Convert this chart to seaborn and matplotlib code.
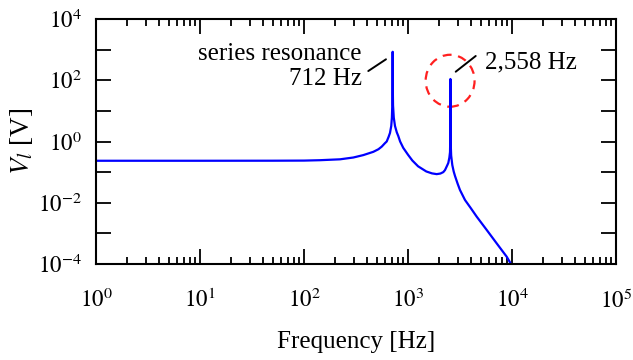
import numpy as np
import pandas as pd
import matplotlib
matplotlib.use("Agg")
import matplotlib.pyplot as plt
from matplotlib.ticker import LogLocator, FuncFormatter, NullLocator, NullFormatter
from matplotlib.patches import Ellipse
import seaborn as sns

# Load-voltage magnitude versus frequency
freq_hz = [1, 10, 50, 100, 142, 222, 298, 372, 464, 520, 559, 600, 624, 650,
           671, 690, 700, 706, 710, 712, 714, 718, 730, 750, 780, 807, 840,
           900, 1000, 1100, 1250, 1500, 1700, 1888, 2050, 2184, 2270, 2390,
           2441, 2500, 2535, 2548, 2554, 2558, 2562, 2570, 2600, 2667, 2750,
           2831, 3000, 3162, 3532, 4000, 4581, 5715, 7129, 8892, 9776, 10500]
v_load = [0.235, 0.235, 0.236, 0.238, 0.245, 0.262, 0.30, 0.36, 0.46, 0.56,
          0.68, 0.88, 1.0, 1.4, 1.9, 3.2, 6.0, 15, 60, 850, 60, 15, 6.0, 3.2,
          2.0, 1.5, 1.0, 0.62, 0.37, 0.24, 0.155, 0.105, 0.091, 0.086, 0.090,
          0.100, 0.117, 0.17, 0.20, 0.30, 0.45, 1.2, 6.0, 110, 6.0, 1.0, 0.35,
          0.17, 0.105, 0.075, 0.042, 0.026, 0.0123, 0.0068, 0.0035, 0.00129,
          0.00047, 0.000173, 0.0001, 0.00007]

x_ticks = [1e0, 1e1, 1e2, 1e3, 1e4, 1e5]
y_ticks = [1e-4, 1e-2, 1e0, 1e2, 1e4]

df = pd.DataFrame({"Frequency [Hz]": freq_hz, "V": v_load})

sns.set_style("ticks")
plt.rcParams["font.family"] = ["Liberation Serif", "DejaVu Serif"]
plt.rcParams["mathtext.fontset"] = "stix"
plt.rcParams["text.color"] = "black"
plt.rcParams["axes.labelcolor"] = "black"

fig, ax = plt.subplots(figsize=(6.33, 3.6), dpi=100)
fig.subplots_adjust(left=96 / 633, right=616 / 633, top=1 - 19 / 360, bottom=1 - 264 / 360)

sns.lineplot(data=df, x="Frequency [Hz]", y="V", ax=ax, color="#0000ff", lw=1.6,
             sort=False, estimator=None)

ax.set_xscale("log")
ax.set_yscale("log")
ax.set_xlim(x_ticks[0], x_ticks[-1])
ax.set_ylim(y_ticks[0], y_ticks[-1])

# x axis: every decade labelled, with minor ticks
ax.xaxis.set_major_locator(LogLocator(base=10, numticks=20))
ax.xaxis.set_minor_locator(LogLocator(base=10, subs=np.arange(2, 10), numticks=20))
ax.xaxis.set_minor_formatter(NullFormatter())
ax.xaxis.set_major_formatter(FuncFormatter(lambda v, p: r"$10^{%d}$" % round(np.log10(v))))

# y axis: tick at every decade, label every other one
ax.yaxis.set_major_locator(LogLocator(base=10, numticks=20))
ax.yaxis.set_minor_locator(NullLocator())

def ylab(v, p):
    e = round(np.log10(v))
    return r"$10^{%d}$" % e if e % 2 == 0 else ""

ax.yaxis.set_major_formatter(FuncFormatter(ylab))

ax.tick_params(which="both", direction="in", top=True, right=True, width=1.3, colors="black")
ax.tick_params(which="major", length=10.8, labelsize=16.5)
ax.tick_params(which="minor", length=5)
ax.tick_params(axis="x", which="major", pad=18)
ax.tick_params(axis="y", which="major", pad=10)

for s in ax.spines.values():
    s.set_linewidth(1.5)
    s.set_color("black")

ax.set_xlabel("Frequency [Hz]", fontsize=18, labelpad=13, color="black")
ax.set_ylabel(r"$V_l$ [V]", fontsize=19.5, labelpad=2, color="black")

# annotations
ax.text(361, 458, "series resonance", fontsize=18, ha="right", va="baseline", color="black")
ax.text(361, 70, "712 Hz", fontsize=18, ha="right", va="baseline", color="black")
ax.plot([415, 614], [200, 483], color="black", lw=1.4)
ax.plot([2876, 4478], [190, 620], color="black", lw=1.4)
ax.text(5500, 245, "2,558 Hz", fontsize=18, ha="left", va="baseline", color="black")

ax.add_patch(Ellipse((0.681, 0.748), 0.094, 0.212, transform=ax.transAxes,
                     fill=False, edgecolor="#ff2020", lw=1.6, ls=(0, (4, 3))))

fig.savefig("out.png", dpi=100)
